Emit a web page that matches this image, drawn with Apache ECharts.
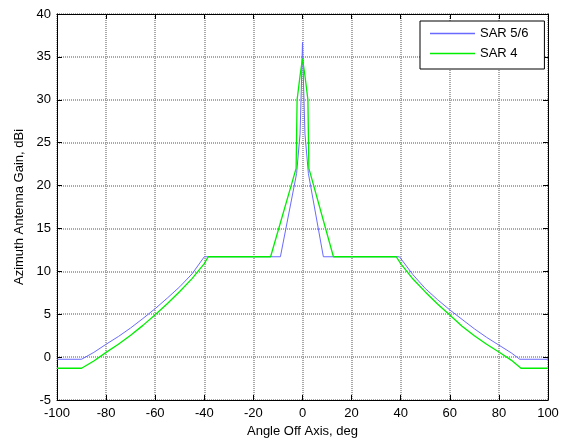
<!DOCTYPE html>
<html>
<head>
<meta charset="utf-8">
<script src="https://cdn.jsdelivr.net/npm/echarts@6/dist/echarts.min.js"></script>
<style>
html,body{margin:0;padding:0;background:#fff;}
#chart{width:568px;height:446px;}
</style>
</head>
<body>
<div id="chart"></div>
<script>
// Tick labels
var xTicks = [-100, -80, -60, -40, -20, 0, 20, 40, 60, 80, 100];
var yTicks = [-5, 0, 5, 10, 15, 20, 25, 30, 35, 40];

// Series: SAR 5/6
var sar56Angle = [-100, -90, -85, -80, -75, -70, -65, -60, -55, -50, -45, -40, -9, -2.4, -1, -0.5, 0, 0.5, 1, 2.4, 8.5, 39.5, 45, 50, 55, 60, 65, 70, 75, 80, 85, 88.5, 100];
var sar56Gain  = [-0.25, -0.25, 0.55, 1.5, 2.4, 3.4, 4.5, 5.65, 6.9, 8.2, 9.7, 11.7, 11.7, 21.4, 26, 31, 36.7, 31, 26, 21.4, 11.7, 11.7, 9.6, 8.0, 6.7, 5.5, 4.4, 3.3, 2.3, 1.4, 0.5, -0.25, -0.25];

// Series: SAR 4
var sar4Angle = [-100, -90, -85, -80, -75, -70, -65, -60, -55, -50, -45, -40, -38.4, -13, -2.6, -2.2, -1, 0, 1, 2.2, 2.6, 12.6, 38.2, 40, 45, 50, 55, 60, 65, 70, 75, 80, 85, 89, 100];
var sar4Gain  = [-1.3, -1.3, -0.45, 0.55, 1.5, 2.55, 3.7, 4.95, 6.25, 7.65, 9.15, 10.9, 11.7, 11.7, 22, 30, 32.8, 34.8, 32.8, 30, 22, 11.7, 11.7, 10.9, 9.1, 7.6, 6.2, 4.9, 3.6, 2.5, 1.5, 0.6, -0.35, -1.3, -1.3];

var seriesNames = ['SAR 5/6', 'SAR 4'];

function zip(a, b) { return a.map(function (v, i) { return [v, b[i]]; }); }

var FONT = 'Liberation Sans, Arial, sans-serif';
var xMin = xTicks[0], xMax = xTicks[xTicks.length - 1], xInt = xTicks[1] - xTicks[0];
var yMin = yTicks[0], yMax = yTicks[yTicks.length - 1], yInt = yTicks[1] - yTicks[0];

var gridLine = { show: true, lineStyle: { color: '#8c8c8c', type: [1, 1], width: 1.5 } };
var axLine = { show: true, onZero: false, lineStyle: { color: '#000', width: 1 } };
var tick = { show: true, inside: true, length: 5, lineStyle: { color: '#000' } };

var chart = echarts.init(document.getElementById('chart'), null, { renderer: 'canvas' });
chart.setOption({
  animation: false,
  backgroundColor: '#fff',
  grid: { left: 57, right: 20, top: 14, bottom: 46, containLabel: false },
  legend: {
    orient: 'vertical',
    left: 420,
    top: 21,
    data: seriesNames,
    icon: 'rect',
    itemWidth: 45,
    itemHeight: 1.5,
    itemGap: 5,
    padding: [5, 16, 8, 10],
    borderColor: '#000',
    borderWidth: 1,
    backgroundColor: '#fff',
    textStyle: { fontFamily: FONT, fontSize: 13, color: '#000', lineHeight: 15 }
  },
  xAxis: [{
    type: 'value', min: xMin, max: xMax, interval: xInt,
    position: 'bottom',
    name: 'Angle Off Axis, deg', nameLocation: 'middle', nameGap: 23,
    nameTextStyle: { fontFamily: FONT, fontSize: 13, color: '#000' },
    axisLine: axLine, axisTick: tick,
    axisLabel: { fontFamily: FONT, fontSize: 13, color: '#000', margin: 7 },
    splitLine: gridLine
  }, {
    type: 'value', min: xMin, max: xMax, interval: xInt,
    position: 'top',
    axisLine: axLine, axisTick: tick,
    axisLabel: { show: false }, splitLine: { show: false }
  }],
  yAxis: [{
    type: 'value', min: yMin, max: yMax, interval: yInt,
    position: 'left',
    name: 'Azimuth Antenna Gain, dBi', nameLocation: 'middle', nameGap: 31,
    nameTextStyle: { fontFamily: FONT, fontSize: 13, color: '#000' },
    axisLine: axLine, axisTick: tick,
    axisLabel: { fontFamily: FONT, fontSize: 13, color: '#000', margin: 6 },
    splitLine: gridLine
  }, {
    type: 'value', min: yMin, max: yMax, interval: yInt,
    position: 'right',
    axisLine: axLine, axisTick: tick,
    axisLabel: { show: false }, splitLine: { show: false }
  }],
  series: [{
    name: seriesNames[0], type: 'line', data: zip(sar56Angle, sar56Gain),
    showSymbol: false, symbol: 'none',
    itemStyle: { color: '#6a6aff' },
    lineStyle: { color: '#6a6aff', width: 1 }, z: 3
  }, {
    name: seriesNames[1], type: 'line', data: zip(sar4Angle, sar4Gain),
    showSymbol: false, symbol: 'none',
    itemStyle: { color: '#00ee00' },
    lineStyle: { color: '#00ee00', width: 1.3 }, z: 4
  }]
});
</script>
</body>
</html>
